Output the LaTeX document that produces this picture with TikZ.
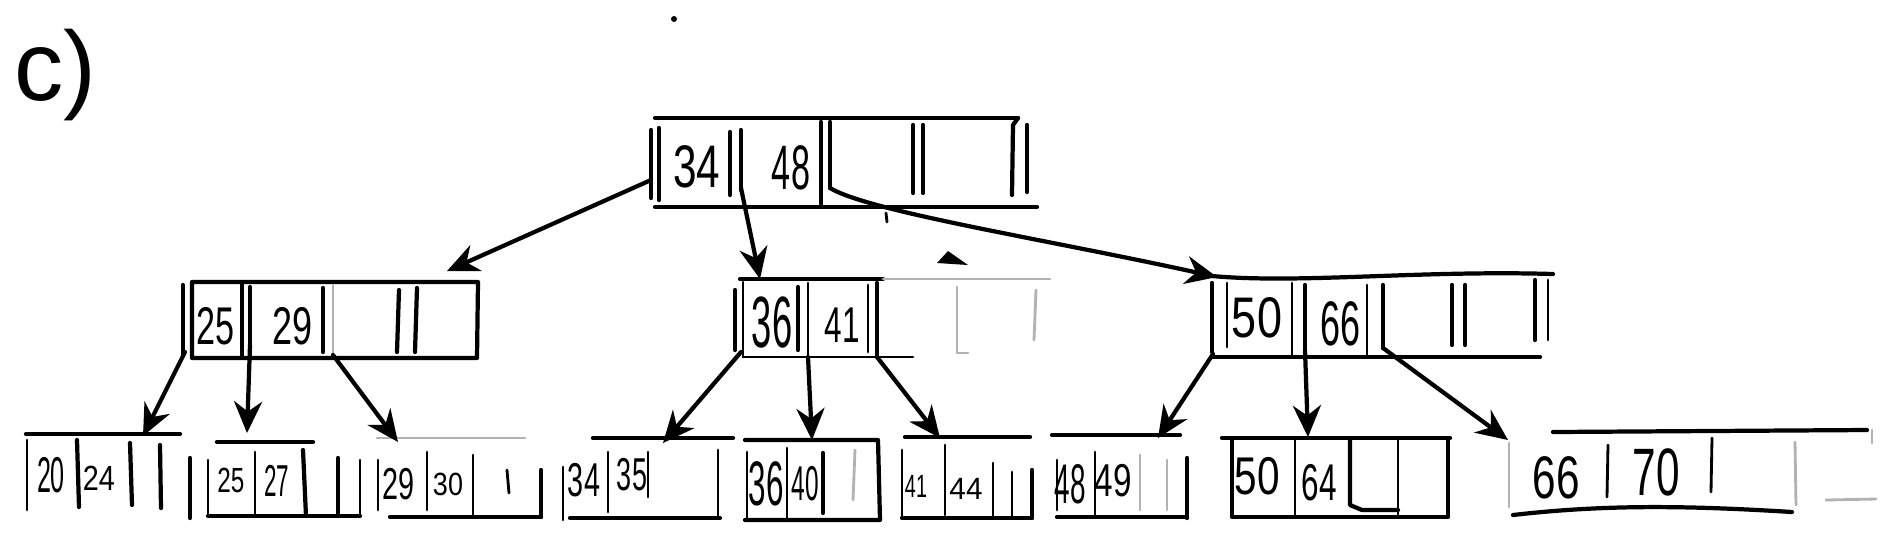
\documentclass[tikz,border=0pt]{standalone}
\usepackage{fontspec}
\setmainfont{Liberation Sans}
\usepackage{graphicx}
\usetikzlibrary{arrows.meta}
\newcommand\keytxt[3]{\pgfmathsetmacro\kfs{#1*0.3973}\pgfmathsetmacro\ksx{max(0.5,#2/(1.553*#1))}\fontsize{\kfs}{\kfs}\selectfont\scalebox{\ksx}[1]{#3}}
\tikzset{
  ln/.style={line width=1.2pt, line cap=round, line join=round},
  lt/.style={line width=0.8pt, line cap=round},
  fnt/.style={line width=0.8pt, black!30, line cap=round},
  arr/.style={line width=1.2pt, line cap=round, -{Stealth[length=9pt,width=8pt]}},
  kn/.style={inner sep=0pt, outer sep=0pt},
}
\begin{document}
\begin{tikzpicture}[x=0.01cm,y=-0.01cm]
\useasboundingbox (0,0) rectangle (1884,538);
\fill[white] (0,0) rectangle (1884,538);

% label and stray marks
\node[anchor=base west, inner sep=0pt, font=\fontsize{28}{28}\selectfont] (lab) at (14,100) {c)};
\fill (674,19) circle (3);
\draw[lt] (886,213) -- (887,222);

% ---------- root ----------
\draw[ln] (655,118) -- (1018,118);
\draw[ln] (655,207) -- (1037,207);
\draw[ln] (651,130) -- (651,198);
\draw[ln] (659,128) -- (659,200);
\draw[ln] (730,132) -- (730,195);
\draw[ln] (741,130) -- (741,190);
\draw[ln] (821,122) -- (821,204);
\draw[ln] (830,122) -- (830,188);
\draw[ln] (913,125) -- (913,193);
\draw[ln] (923,125) -- (923,193);
\draw[ln] (1018,118) -- (1013,125) -- (1012,195);
\draw[ln] (1027,125) -- (1027,192);
\node[kn] (rk34) at (697,167) {\keytxt{43}{47}{34}};
\node[kn] (rk48) at (791,168) {\keytxt{45}{38}{48}};

% ---------- inner node a ----------
\draw[ln] (183,285) -- (183,355);
\draw[ln] (192,282) -- (478,282) -- (477,358) -- (192,358) -- cycle;
\draw[ln] (242,283) -- (242,357);
\draw[ln] (250,287) -- (250,357);
\draw[ln] (323,288) -- (323,352);
\draw[fnt] (333,285) -- (333,357);
\draw[ln] (399,290) -- (397,352);
\draw[ln] (417,288) -- (415,352);
\node[kn] (ak25) at (216,326) {\keytxt{38}{38}{25}};
\node[kn] (ak29) at (293,326) {\keytxt{38}{40}{29}};

% ---------- inner node b ----------
\draw[ln] (740,279) -- (883,279);
\draw[fnt] (883,279) -- (1050,279);
\draw[lt] (743,357) -- (913,357);
\draw[ln] (735,290) -- (735,350);
\draw[lt] (743,282) -- (743,357);
\draw[ln] (798,287) -- (798,350);
\draw[lt] (808,283) -- (808,357);
\draw[lt] (868,285) -- (868,352);
\draw[ln] (877,283) -- (877,357);
\draw[fnt] (947,279) -- (968,279);
\draw[fnt] (957,287) -- (957,353) -- (968,353);
\draw[fnt] (1036,290) -- (1034,340);
\fill (937,263) -- (948,251) -- (968,265) -- cycle;
\node[kn] (bk36) at (772,322) {\keytxt{52}{40}{36}};
\node[kn] (bk41) at (842,325) {\keytxt{36}{35}{41}};

% ---------- inner node c ----------
\draw[ln] (1212,276) .. controls (1300,284) and (1420,270) .. (1553,274);
\draw[ln] (1212,357) -- (1540,357);
\draw[ln] (1212,283) -- (1212,352);
\draw[lt] (1227,283) -- (1227,347);
\draw[lt] (1292,283) -- (1292,357);
\draw[ln] (1305,285) -- (1305,350);
\draw[lt] (1367,285) -- (1367,357);
\draw[ln] (1383,285) -- (1383,348);
\draw[ln] (1452,285) -- (1452,345);
\draw[ln] (1465,285) -- (1465,345);
\draw[ln] (1535,280) -- (1535,340);
\draw[lt] (1548,280) -- (1548,340);
\node[kn] (ck50) at (1257,318) {\keytxt{41}{50}{50}};
\node[kn] (ck66) at (1340,324) {\keytxt{45}{40}{66}};

% ---------- leaves ----------
% L1
\draw[ln] (26,434) -- (180,434);
\draw[lt] (27,440) -- (27,510);
\draw[ln] (77,440) -- (79,507);
\draw[ln] (130,443) -- (132,505);
\draw[ln] (160,445) -- (161,508);
\node[kn] (l1a) at (51,475) {\keytxt{36}{27}{20}};
\node[kn] (l1b) at (99,478) {\keytxt{25}{32}{24}};
% L2
\draw[ln] (190,458) -- (190,518);
\draw[ln] (217,442) -- (313,442);
\draw[ln] (208,516) -- (360,516);
\draw[lt] (208,460) -- (208,516);
\draw[lt] (255,452) -- (255,516);
\draw[ln] (303,450) -- (306,516);
\draw[ln] (338,458) -- (338,516);
\draw[lt] (360,460) -- (360,516);
\node[kn] (l2a) at (231,480) {\keytxt{25}{27}{25}};
\node[kn] (l2b) at (277,481) {\keytxt{32}{25}{27}};
% L3
\draw[fnt] (377,438) -- (525,438);
\draw[ln] (390,517) -- (541,517);
\draw[lt] (378,460) -- (378,510);
\draw[lt] (427,452) -- (427,510);
\draw[lt] (473,455) -- (473,515);
\draw[lt] (507,470) -- (509,493);
\draw[ln] (541,470) -- (541,517);
\node[kn] (l3a) at (399,484) {\keytxt{32}{32}{29}};
\node[kn] (l3b) at (448,484) {\keytxt{23}{30}{30}};
% L4
\draw[ln] (593,438) -- (733,438);
\draw[ln] (570,518) -- (720,518);
\draw[lt] (563,467) -- (563,520);
\draw[lt] (608,452) -- (608,512);
\draw[lt] (648,452) -- (648,497);
\draw[lt] (718,450) -- (718,518);
\node[kn] (l4a) at (584,480) {\keytxt{34}{32}{34}};
\node[kn] (l4b) at (632,475) {\keytxt{33}{30}{35}};
% L5
\draw[ln] (745,440) -- (878,440) -- (880,520) -- (745,520);
\draw[lt] (747,452) -- (747,520);
\draw[lt] (787,448) -- (787,518);
\draw[ln] (823,453) -- (823,513);
\draw[fnt] (855,450) -- (853,500);
\node[kn] (l5a) at (766,484) {\keytxt{45}{28}{36}};
\node[kn] (l5b) at (805,484) {\keytxt{35}{26}{40}};
% L6
\draw[ln] (905,437) -- (1030,437);
\draw[ln] (902,518) -- (1032,518);
\draw[lt] (902,450) -- (902,518);
\draw[lt] (945,445) -- (945,515);
\draw[lt] (993,463) -- (993,517);
\draw[lt] (1012,472) -- (1012,517);
\draw[ln] (1032,470) -- (1032,518);
\node[kn] (l6a) at (916,486) {\keytxt{23}{22}{41}};
\node[kn] (l6b) at (966,489) {\keytxt{22}{33}{44}};
% L7
\draw[ln] (1052,435) -- (1180,435);
\draw[ln] (1057,517) -- (1187,517);
\draw[lt] (1057,460) -- (1057,510);
\draw[lt] (1095,452) -- (1095,515);
\draw[fnt] (1140,455) -- (1140,510);
\draw[fnt] (1167,460) -- (1167,510);
\draw[ln] (1187,458) -- (1187,518);
\node[kn] (l7a) at (1070,484) {\keytxt{40}{30}{48}};
\node[kn] (l7b) at (1113,481) {\keytxt{33}{37}{49}};
% L8
\draw[ln] (1222,438) -- (1450,438);
\draw[ln] (1232,440) -- (1232,517) -- (1448,517) -- (1448,440);
\draw[lt] (1295,440) -- (1295,517);
\draw[ln] (1350,440) -- (1350,505) -- (1362,510) -- (1398,510);
\draw[lt] (1398,440) -- (1398,517);
\node[kn] (l8a) at (1257,476) {\keytxt{38}{45}{50}};
\node[kn] (l8b) at (1319,483) {\keytxt{37}{35}{64}};
% L9
\draw[ln] (1553,432) -- (1867,430);
\draw[ln] (1513,515) .. controls (1600,505) and (1680,505) .. (1792,512);
\draw[fnt] (1509,443) -- (1509,507);
\draw[lt] (1608,445) -- (1607,497);
\draw[lt] (1712,438) -- (1711,492);
\draw[fnt] (1795,442) -- (1796,505);
\draw[fnt] (1872,430) -- (1872,443);
\draw[fnt] (1826,500) -- (1876,499);
\node[kn] (l9a) at (1556,478) {\keytxt{43}{47}{66}};
\node[kn] (l9b) at (1656,472) {\keytxt{48}{47}{70}};

% ---------- connectors ----------
\coordinate (r0) at (651,180);
\coordinate (r1) at (741,188);
\coordinate (r2) at (830,188);
\coordinate (ta) at (447,271);
\coordinate (tb) at (760,279);
\coordinate (tc) at (1217,277);
\draw[arr] (r0) -- (ta);
\draw[arr] (r1) -- (tb);
\draw[arr] (r2) .. controls (870,212) and (1050,240) .. (tc);

\coordinate (a0) at (185,352);
\coordinate (a1) at (250,345);
\coordinate (a2) at (333,355);
\coordinate (t1) at (143,436);
\coordinate (t2) at (247,433);
\coordinate (t3) at (398,442);
\draw[arr] (a0) -- (t1);
\draw[arr] (a1) -- (t2);
\draw[arr] (a2) -- (t3);

\coordinate (b0) at (741,352);
\coordinate (b1) at (808,357);
\coordinate (b2) at (877,357);
\coordinate (t4) at (663,443);
\coordinate (t5) at (812,440);
\coordinate (t6) at (940,438);
\draw[arr] (b0) -- (t4);
\draw[arr] (b1) -- (t5);
\draw[arr] (b2) -- (t6);

\coordinate (c0) at (1213,354);
\coordinate (c1) at (1305,350);
\coordinate (c2) at (1383,348);
\coordinate (t7) at (1158,438);
\coordinate (t8) at (1308,437);
\coordinate (t9) at (1508,440);
\draw[arr] (c0) -- (t7);
\draw[arr] (c1) -- (t8);
\draw[arr] (c2) -- (t9);
\end{tikzpicture}
\end{document}
